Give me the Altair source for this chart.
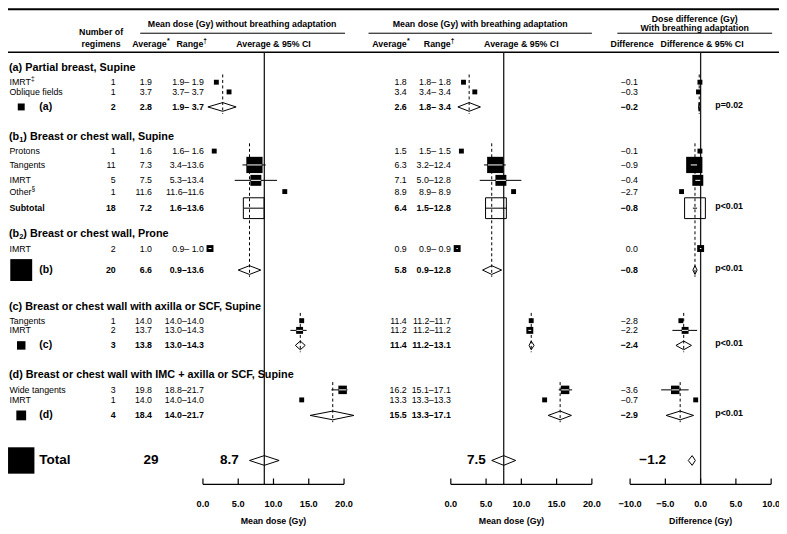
import math
import altair as alt
import pandas as pd

# ---------------------------------------------------------------- layout helpers
S = 771 / 787          # reference px -> chart px (page has an 8px margin)
T = 518 / 534
def px(v): return round(v * S, 2)
def py(v): return round(v * T, 2)
FONT = "Liberation Sans"

# approximate Arial / Liberation Sans advance widths (per 1000 em) for split labels
W_REG = {"I": 278, "M": 833, "R": 722, "T": 611, "O": 778, "t": 278, "h": 556, "e": 556, "r": 333}
W_BOLD = {"(": 333, "b": 611, "A": 722, "v": 556, "e": 556, "r": 389, "a": 556, "g": 611,
          "R": 722, "n": 611, "1": 556, "2": 556, "*": 389, "†": 556}
def tw(s, size, bold=False):
    tab = W_BOLD if bold else W_REG
    return sum(tab.get(c, 556) for c in s) * size / 1000

# ---------------------------------------------------------------- data
row_kind = ["head", "item", "item", "sum",
            "head", "item", "item", "item", "item", "sub",
            "head", "item", "sum",
            "head", "item", "item", "sum",
            "head", "item", "item", "sum",
            "total"]
row_label = ["(a) Partial breast, Supine", "IMRT‡", "Oblique fields", "(a)",
             "(b₁) Breast or chest wall, Supine", "Protons", "Tangents", "IMRT", "Other§", "Subtotal",
             "(b₂) Breast or chest wall, Prone", "IMRT", "(b)",
             "(c) Breast or chest wall with axilla or SCF, Supine", "Tangents", "IMRT", "(c)",
             "(d) Breast or chest wall with IMC + axilla or SCF, Supine", "Wide tangents", "IMRT", "(d)",
             "Total"]
row_group = ["a", "a", "a", "a", "b", "b", "b", "b", "b", "b", "b", "b", "b",
             "c", "c", "c", "c", "d", "d", "d", "d", "all"]
n_regimens = [None, 1, 1, 2, None, 1, 11, 5, 1, 18, None, 2, 20, None, 1, 2, 3, None, 3, 1, 4, 29]

avg_without = [None, 1.9, 3.7, 2.8, None, 1.6, 7.3, 7.5, 11.6, 7.2, None, 1.0, 6.6,
               None, 14.0, 13.7, 13.8, None, 19.8, 14.0, 18.4, 8.7]
range_without = [None, "1.9– 1.9", "3.7– 3.7", "1.9– 3.7", None, "1.6– 1.6", "3.4–13.6", "5.3–13.4",
                 "11.6–11.6", "1.6–13.6", None, "0.9– 1.0", "0.9–13.6", None, "14.0–14.0", "13.0–14.3",
                 "13.0–14.3", None, "18.8–21.7", "14.0–14.0", "14.0–21.7", None]
lo_without = [None, 1.9, 3.7, 0.7, None, 1.6, 5.6, 4.5, 11.6, 5.8, None, 0.8, 5.0,
              None, 14.0, 12.4, 13.1, None, 18.2, 14.0, 15.2, 6.6]
hi_without = [None, 1.9, 3.7, 4.7, None, 1.6, 8.9, 10.5, 11.6, 8.6, None, 1.2, 8.2,
              None, 14.0, 14.7, 14.5, None, 20.5, 14.0, 21.4, 10.8]

avg_with = [None, 1.8, 3.4, 2.6, None, 1.5, 6.3, 7.1, 8.9, 6.4, None, 0.9, 5.8,
            None, 11.4, 11.2, 11.4, None, 16.2, 13.3, 15.5, 7.5]
range_with = [None, "1.8– 1.8", "3.4– 3.4", "1.8– 3.4", None, "1.5– 1.5", "3.2–12.4", "5.0–12.8",
              "8.9– 8.9", "1.5–12.8", None, "0.9– 0.9", "0.9–12.8", None, "11.2–11.7", "11.2–11.2",
              "11.2–13.1", None, "15.1–17.1", "13.3–13.3", "13.3–17.1", None]
lo_with = [None, 1.8, 3.4, 1.0, None, 1.5, 4.7, 4.1, 8.9, 4.9, None, 0.8, 4.5,
           None, 11.4, 11.0, 11.1, None, 15.3, 13.3, 13.8, 5.8]
hi_with = [None, 1.8, 3.4, 4.2, None, 1.5, 7.8, 10.0, 8.9, 7.9, None, 1.0, 7.2,
           None, 11.4, 11.4, 11.8, None, 17.2, 13.3, 17.1, 9.2]

diff = [None, -0.1, -0.3, -0.2, None, -0.1, -0.9, -0.4, -2.7, -0.8, None, 0.0, -0.8,
        None, -2.8, -2.2, -2.4, None, -3.6, -0.7, -2.9, -1.2]
lo_diff = [None, -0.1, -0.3, -0.3, None, -0.1, -1.4, -0.75, -2.7, -1.1, None, -0.1, -1.1,
           None, -2.8, -4.0, -3.5, None, -5.6, -0.7, -4.9, -1.75]
hi_diff = [None, -0.1, -0.3, -0.1, None, -0.1, -0.5, -0.05, -2.7, -0.5, None, 0.1, -0.5,
           None, -2.8, -0.5, -1.3, None, -1.7, -0.7, -1.0, -0.75]
p_value = [None, None, None, "p=0.02", None, None, None, None, None, "p<0.01", None, None, "p<0.01",
           None, None, None, "p<0.01", None, None, None, "p<0.01", None]

ticks_dose = [0, 5, 10, 15, 20]
ticks_diff = [-10, -5, 0, 5, 10]

header_texts = ["Number of", "regimens",
                "Mean dose (Gy) without breathing adaptation", "Average*", "Range†", "Average & 95% CI",
                "Mean dose (Gy) with breathing adaptation", "Average*", "Range†", "Average & 95% CI",
                "Dose difference (Gy)", "With breathing adaptation", "Difference", "Difference & 95% CI"]
axis_titles = ["Mean dose (Gy)", "Mean dose (Gy)", "Difference (Gy)"]

SUBS = {"₁": "1", "₂": "2"}
SUPS = "‡§†*"

# ---------------------------------------------------------------- row positions (from row kinds & box sizes)
def half(kind, nr):
    if kind == "head":
        return 5.5
    r = 2.5 * math.sqrt(nr)
    if kind == "item":
        return max(4.0, r)
    if kind == "sum":
        return max(4.5, r)
    return r

PAD = {("head", "item"): 5, ("item", "item"): 2, ("item", "sum"): 7, ("item", "sub"): 2.5,
       ("sum", "head"): 21, ("sub", "head"): 11, ("sum", "total"): 28}
ys, yy = [], 62.0
for i, k in enumerate(row_kind):
    if i > 0:
        pk = row_kind[i - 1]
        yy += half(pk, n_regimens[i - 1]) + half(k, n_regimens[i]) + PAD[(pk, k)]
    ys.append(yy)

df = pd.DataFrame({
    "kind": row_kind, "label": row_label, "grp": row_group, "n": n_regimens, "y": ys,
    "a1": avg_without, "r1": range_without, "lo1": lo_without, "hi1": hi_without,
    "a2": avg_with, "r2": range_with, "lo2": lo_with, "hi2": hi_with,
    "a3": diff, "lo3": lo_diff, "hi3": hi_diff, "p": p_value,
})

yscale = alt.Scale(domain=[0, 534], range=[0, 518], nice=False, zero=False)
Y = alt.Y("y:Q", scale=yscale, axis=None)
SZ = alt.Size("n:Q", scale=alt.Scale(domain=[0, 29], range=[0, 696]), legend=None)
one = pd.DataFrame({"k": [0]})

# ---------------------------------------------------------------- fixed decorations
def hline(x1, x2, y, w):
    return alt.Chart(one).mark_rule(color="black", strokeWidth=w).encode(
        x=alt.value(px(x1)), x2=alt.value(px(x2)), y=alt.value(py(y)))

def fixed_text(s, x, y, size=8.8, align="center", dy=0):
    return alt.Chart(one).mark_text(font=FONT, fontSize=size, fontWeight="bold", align=align,
                                    baseline="middle", color="black", dy=dy).encode(
        x=alt.value(x), y=alt.value(py(y)), text=alt.value(s))

def header(s, xc, y, size=8.8):
    if s[-1] in SUPS:
        main, mark = s[:-1], s[-1]
        msize = 6.5 if mark == "†" else 7
        full = tw(main, size, True) + tw(mark, msize, True)
        left = px(xc) - full / 2
        return [fixed_text(main, left, y, size, "left"),
                fixed_text(mark, left + tw(main, size, True), y, msize, "left", dy=-2.5)]
    return [fixed_text(s, px(xc), y, size)]

hdr_pos = [(95, 25), (95, 37), (239, 16), (146, 37), (187.5, 37), (271, 37),
           (482, 16), (391, 37), (440, 37), (524, 37),
           (701, 11.5), (701, 20.5), (637, 37), (708.5, 37)]
deco = [hline(0, 787, 1.2, 2), hline(135, 344, 26, 1), hline(368, 596, 26, 1),
        hline(622, 780, 26, 1), hline(0, 787, 45.5, 1.5)]
for s, (x, y) in zip(header_texts, hdr_pos):
    deco += header(s, x, y)

# ---------------------------------------------------------------- table text
def tlayer(data, field, x, align="right", size=8.8, bold=False, fmt=None, dy=0, raw_x=False):
    t = alt.Text(f"{field}:Q", format=fmt) if fmt else alt.Text(f"{field}:N")
    return alt.Chart(data).mark_text(font=FONT, fontSize=size, fontWeight="bold" if bold else "normal",
                                     align=align, baseline="middle", dy=dy, color="black").encode(
        x=alt.value(x if raw_x else px(x)), y=Y, text=t)

heads = df[df.kind == "head"].copy()
items = df[df.kind == "item"].copy()
sums = df[df.kind.isin(["sum", "sub"])]
sum_only = df[df.kind == "sum"]
subt = df[df.kind == "sub"]
tot = df[df.kind == "total"]
pv = df[df.p.notna()]

# headings: plain ones, and ones carrying a subscript
heads["has_sub"] = heads.label.apply(lambda s: any(c in s for c in SUBS))
plain_heads = heads[~heads.has_sub]
sub_heads = heads[heads.has_sub].copy()
sub_heads["pre"] = sub_heads.label.apply(lambda s: s[:next(i for i, c in enumerate(s) if c in SUBS)])
sub_heads["sub"] = sub_heads.label.apply(lambda s: SUBS[next(c for c in s if c in SUBS)])
sub_heads["post"] = sub_heads.label.apply(lambda s: s[next(i for i, c in enumerate(s) if c in SUBS) + 1:])
HS, SUBSZ = 10.8, 7.5
pre_w = tw(sub_heads.pre.iloc[0], HS, True)
sub_w = tw(sub_heads["sub"].iloc[0], SUBSZ, True)

items["main"] = items.label.apply(lambda s: s[:-1] if s[-1] in SUPS else s)
items["mark"] = items.label.apply(lambda s: s[-1] if s[-1] in SUPS else "")

table = [
    tlayer(plain_heads, "label", 1, "left", HS, True),
    tlayer(sub_heads, "pre", 1, "left", HS, True),
    tlayer(sub_heads, "sub", px(1) + pre_w, "left", SUBSZ, True, dy=3, raw_x=True),
    tlayer(sub_heads, "post", px(1) + pre_w + sub_w, "left", HS, True, raw_x=True),
    tlayer(items, "main", 1.5, "left", 8.8),
    tlayer(subt, "label", 1.5, "left", 8.8, True),
    tlayer(sum_only, "label", 32, "left", 10.5, True),
    tlayer(tot, "label", 32, "left", 13.5, True),
    alt.Chart(df[df.kind.isin(["sum", "total"])]).mark_square(color="black", opacity=1).encode(
        x=alt.value(px(13.5)), y=Y, size=SZ),
]
for _, r in items[items["mark"] != ""].iterrows():
    table.append(tlayer(items.loc[[r.name]], "mark", px(1.5) + tw(r["main"], 8.8), "left", 6.5,
                        dy=-3, raw_x=True))

for data, bold in [(items, False), (sums, True)]:
    table += [
        tlayer(data, "n", 110, bold=bold, fmt="d"),
        tlayer(data, "a1", 147, bold=bold, fmt=".1f"),
        tlayer(data, "r1", 200, bold=bold),
        tlayer(data, "a2", 407, bold=bold, fmt=".1f"),
        tlayer(data, "r2", 452, bold=bold),
        tlayer(data, "a3", 643, bold=bold, fmt=".1f"),
    ]
table += [
    tlayer(tot, "n", 146, "center", 13.5, True, fmt="d"),
    tlayer(tot, "a1", 226, "center", 13.5, True, fmt=".1f"),
    tlayer(tot, "a2", 478, "center", 13.5, True, fmt=".1f"),
    tlayer(tot, "a3", 658, "center", 13.5, True, fmt=".1f"),
    tlayer(pv, "p", 722, "left", 8.8, True, dy=-2),
]

# ---------------------------------------------------------------- forest panels
PX_PER_GY = 7.2 * S

def panel(ac, lc, hc, ref_val, dom, rng, ticks, title, title_x):
    sc = alt.Scale(domain=dom, range=[px(rng[0]), px(rng[1])], nice=False, zero=False)
    def X(f):
        return alt.X(f"{f}:Q", scale=sc, axis=None)

    ref_df = pd.DataFrame({"v": [ref_val]})
    dash_rows = []
    for g in ["a", "b", "c", "d"]:
        sub = df[df.grp == g]
        first = sub[sub.kind == "item"].y.min()
        s = sub[sub.kind == "sum"].iloc[0]
        dash_rows.append({"v": s[ac], "y1": first - 8, "y2": s.y + 7})
    dash_df = pd.DataFrame(dash_rows)

    ci_src = df[df.kind.isin(["item", "sub"])]
    ci_df = ci_src[ci_src[hc] > ci_src[lc]].rename(columns={lc: "lo", hc: "hi"})
    sq_df = df[df.kind == "item"].rename(columns={ac: "v"})
    w = df[(df.kind == "item") & (df[hc] > df[lc])].copy()
    hw = (w.n.apply(lambda n: math.sqrt(24 * n)) / 2 / PX_PER_GY) * 0.9
    w["wlo"] = pd.concat([w[lc], w[ac] - hw], axis=1).max(axis=1)
    w["whi"] = pd.concat([w[hc], w[ac] + hw], axis=1).min(axis=1)
    w = w[w.whi - w.wlo > 0.05]
    sub_df = subt.rename(columns={ac: "v"})

    dd = []
    for i, r in df[df.kind.isin(["sum", "total"])].iterrows():
        h = 5 if r.kind == "total" else 4.5
        pts = [(r[lc], r.y), (r[ac], r.y - h), (r[hc], r.y), (r[ac], r.y + h), (r[lc], r.y)]
        for o, (xx, yv) in enumerate(pts):
            dd.append({"x": xx, "yy": yv, "id": int(i), "o": o})
    dia_df = pd.DataFrame(dd)
    tick_df = pd.DataFrame({"t": ticks})
    ax_df = pd.DataFrame({"a": [min(ticks)], "b": [max(ticks)]})

    layers = [
        alt.Chart(ref_df).mark_rule(color="#1a1a1a", strokeWidth=1.3).encode(
            x=X("v"), y=alt.value(py(45.5)), y2=alt.value(py(491))),
        alt.Chart(dash_df).mark_rule(color="black", strokeWidth=1, strokeDash=[3, 2.5]).encode(
            x=X("v"), y=alt.Y("y1:Q", scale=yscale, axis=None), y2=alt.Y2("y2:Q")),
        alt.Chart(ci_df).mark_rule(color="black", strokeWidth=1).encode(
            x=X("lo"), x2=alt.X2("hi:Q"), y=Y),
        alt.Chart(sq_df).mark_square(color="black", opacity=1).encode(x=X("v"), y=Y, size=SZ),
        alt.Chart(w).mark_rule(color="white", strokeWidth=1).encode(
            x=X("wlo"), x2=alt.X2("whi:Q"), y=Y),
        alt.Chart(sub_df).mark_square(filled=False, color="black", strokeWidth=1, opacity=1).encode(
            x=X("v"), y=Y, size=SZ),
        alt.Chart(dia_df).mark_line(color="black", strokeWidth=1).encode(
            x=X("x"), y=alt.Y("yy:Q", scale=yscale, axis=None), detail="id:N", order="o:Q"),
        alt.Chart(ax_df).mark_rule(color="black", strokeWidth=1.2).encode(
            x=X("a"), x2=alt.X2("b:Q"), y=alt.value(py(491))),
        alt.Chart(tick_df).mark_rule(color="black", strokeWidth=1.2).encode(
            x=X("t"), y=alt.value(py(485)), y2=alt.value(py(491))),
        alt.Chart(tick_df).mark_text(font=FONT, fontSize=9.2, fontWeight="bold", baseline="middle",
                                     color="black").encode(
            x=X("t"), y=alt.value(py(511)), text=alt.Text("t:Q", format=".1f")),
        fixed_text(title, px(title_x), 529),
    ]
    return alt.layer(*layers)

total_row = df[df.kind == "total"].iloc[0]
p1 = panel("a1", "lo1", "hi1", total_row.a1, [0, 20], (199, 343), ticks_dose, axis_titles[0], 271)
p2 = panel("a2", "lo2", "hi2", total_row.a2, [0, 20], (452, 596), ticks_dose, axis_titles[1], 514)
p3 = panel("a3", "lo3", "hi3", 0, [-10, 10], (635, 779), ticks_diff, axis_titles[2], 707)

chart = alt.layer(*deco, *table, p1, p2, p3).resolve_scale(x="independent").properties(
    width=771, height=518, padding=0, autosize=alt.AutoSizeParams(type="none")
).configure_view(stroke=None)

chart.save("out.html", embed_options={"renderer": "svg", "actions": False})
